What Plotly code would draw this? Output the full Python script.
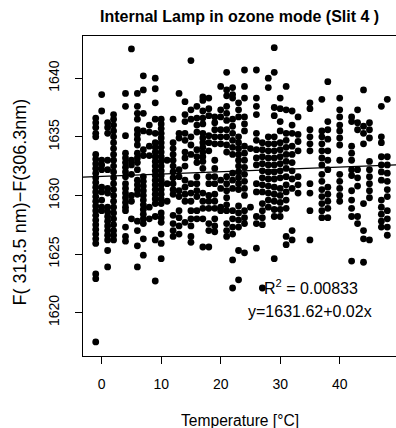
import plotly.graph_objects as go

# Internal lamp ratio F(313.5nm)-F(306.3nm) grouped by instrument temperature (degC)
col_m1 = [1636.6, 1636.2, 1635.8, 1635.3, 1635.0, 1633.5, 1633.1, 1632.7, 1632.3, 1631.9,
          1631.5, 1631.1, 1630.7, 1630.3, 1629.9, 1629.5, 1629.1, 1628.7, 1628.3, 1627.9,
          1627.5, 1627.1, 1626.7, 1626.3, 1625.9, 1623.3, 1622.9, 1617.5]
col_00 = [1638.6, 1637.2, 1633.0, 1632.6, 1632.2, 1630.7, 1630.3, 1629.6, 1629.0, 1628.7]
col_01 = [1636.2, 1635.8, 1635.3, 1633.0, 1632.2, 1630.6, 1630.2, 1629.0, 1628.6, 1628.2,
          1627.8, 1627.4, 1627.0, 1626.6, 1626.2, 1625.3, 1623.9]
col_02 = [1636.9, 1636.5, 1636.0, 1635.5, 1635.0, 1634.5, 1634.0, 1633.5, 1633.0, 1632.5,
          1632.0, 1631.5, 1631.0, 1630.5, 1630.0, 1629.5, 1629.0, 1628.5, 1628.0, 1627.5,
          1627.0, 1626.6, 1626.2]
col_04 = [1638.7, 1637.6, 1635.1, 1633.6, 1633.2, 1632.8, 1632.4, 1632.0, 1631.6, 1631.0,
          1630.6, 1630.2, 1629.8, 1629.4, 1629.0, 1628.7, 1627.3, 1626.5, 1626.1]
col_05 = [1642.5, 1633.0, 1632.6, 1631.8, 1630.0, 1629.5, 1628.0]
col_06 = [1638.7, 1637.6, 1637.0, 1636.5, 1635.6, 1635.2, 1634.8, 1634.3, 1633.6, 1633.2,
          1632.8, 1632.2, 1631.3, 1630.9, 1630.5, 1630.1, 1627.8, 1627.0, 1625.7, 1623.9]
col_07 = [1640.2, 1639.0, 1637.0, 1635.5, 1633.9, 1633.4, 1631.6, 1631.2, 1630.8, 1630.4,
          1630.0, 1629.6, 1629.2, 1628.8, 1628.4, 1628.0, 1627.6, 1626.3, 1624.9]
col_08 = [1636.0, 1635.4, 1634.2, 1633.4, 1629.0, 1628.0]
col_09 = [1640.0, 1639.1, 1637.9, 1636.5, 1635.3, 1634.5, 1634.1, 1633.7, 1633.3, 1632.9,
          1632.5, 1632.1, 1631.7, 1631.3, 1630.9, 1630.5, 1630.1, 1629.7, 1629.3, 1628.2,
          1626.2, 1622.7]
col_10 = [1636.5, 1636.1, 1635.7, 1635.3, 1634.9, 1634.5, 1634.1, 1633.7, 1633.3, 1632.9,
          1632.5, 1632.1, 1631.7, 1631.3, 1630.9, 1630.5, 1630.1, 1629.7, 1629.3, 1628.5,
          1628.1, 1627.7, 1626.7, 1625.9, 1624.6]
col_11 = [1633.0, 1631.0, 1629.5]
col_12 = [1636.5, 1634.5, 1634.0, 1633.5, 1633.0, 1632.5, 1632.0, 1631.5, 1631.0, 1630.5,
          1630.1, 1628.3, 1627.6, 1627.0, 1626.5]
col_13 = [1638.7, 1635.3, 1634.9, 1632.2, 1631.6, 1630.4, 1629.9, 1628.7, 1628.1, 1627.4,
          1626.7]
col_14 = [1638.0, 1636.9, 1636.3, 1635.3, 1634.7, 1633.7, 1633.2, 1632.5, 1631.3, 1630.7,
          1630.1, 1629.5, 1627.7]
col_15 = [1641.5, 1637.3, 1636.5, 1635.0, 1634.3, 1633.5, 1631.0, 1630.2, 1629.5, 1628.7,
          1628.0, 1627.4, 1626.5, 1626.0]
col_16 = [1637.6, 1636.6, 1636.0, 1635.4, 1633.9, 1633.3, 1632.8, 1631.6, 1631.0, 1630.4,
          1629.9, 1628.7, 1628.0]
col_17 = [1638.4, 1638.1, 1637.2, 1636.6, 1636.1, 1635.3, 1634.9, 1634.5, 1634.1, 1633.7,
          1633.3, 1632.9, 1632.3, 1630.2, 1629.5, 1628.9, 1628.0, 1625.6]
col_18 = [1638.3, 1637.4, 1636.8, 1635.1, 1634.5, 1633.8, 1631.6, 1631.0, 1630.0, 1629.5,
          1628.9, 1627.6, 1627.0, 1625.6]
col_19 = [1636.7, 1636.2, 1635.6, 1635.0, 1634.4, 1633.0, 1632.3, 1631.6, 1631.0, 1630.1,
          1629.5, 1628.9, 1628.0, 1627.4, 1626.9]
col_20 = [1639.3, 1637.3, 1636.7, 1635.6, 1635.0, 1634.4, 1631.3, 1630.6, 1629.0, 1628.7]
col_21 = [1640.5, 1639.0, 1638.5, 1637.6, 1637.0, 1636.4, 1635.6, 1635.0, 1634.3, 1633.7,
          1631.6, 1631.0, 1630.4, 1629.8, 1629.2, 1628.7, 1627.6, 1627.0, 1626.5]
col_22 = [1639.2, 1638.6, 1638.3, 1636.5, 1635.9, 1635.3, 1634.7, 1634.1, 1633.5, 1631.9,
          1631.3, 1630.6, 1628.7, 1628.0, 1627.3, 1626.7, 1624.5, 1622.1]
col_23 = [1637.9, 1637.3, 1636.7, 1635.0, 1634.5, 1634.0, 1633.5, 1633.0, 1632.5, 1632.0,
          1631.5, 1631.0, 1630.5, 1629.1, 1628.5, 1627.9, 1627.3, 1625.3, 1622.8]
col_24 = [1640.7, 1639.3, 1638.3, 1636.7, 1636.1, 1635.5, 1634.2, 1633.6, 1633.0, 1632.4,
          1631.8, 1631.2, 1630.6, 1630.0, 1628.7, 1628.1, 1627.6, 1625.1]
col_25 = [1634.0, 1629.0]
col_26 = [1640.7, 1638.3, 1637.6, 1636.9, 1635.3, 1634.7, 1633.9, 1633.2, 1632.6, 1631.0,
          1630.3, 1628.2, 1627.6, 1625.5]
col_27 = [1634.5, 1633.9, 1633.3, 1632.7, 1632.1, 1631.5, 1630.9, 1630.3, 1629.3, 1628.7,
          1628.1, 1627.5, 1622.1]
col_28 = [1640.0, 1639.2, 1635.0, 1634.4, 1633.8, 1633.2, 1632.6, 1632.0, 1631.4, 1630.8,
          1630.2, 1629.6, 1629.0]
col_29 = [1642.6, 1640.5, 1637.5, 1636.8, 1635.0, 1634.4, 1633.8, 1633.2, 1632.6, 1632.0,
          1631.4, 1630.7, 1630.1, 1629.5, 1628.8, 1628.2, 1624.6]
col_30 = [1638.3, 1637.4, 1636.3, 1635.5, 1634.5, 1633.9, 1633.3, 1632.7, 1632.1, 1631.5,
          1630.6, 1630.0, 1629.4, 1628.8, 1628.2]
col_31 = [1639.3, 1637.3, 1635.3, 1634.7, 1634.1, 1633.5, 1632.9, 1632.3, 1631.6, 1630.9,
          1630.3, 1629.6, 1628.9, 1626.5, 1625.8]
col_32 = [1637.2, 1636.0, 1635.3, 1634.2, 1633.5, 1632.8, 1632.1, 1631.4, 1630.6, 1627.0,
          1626.2]
col_33 = [1636.7, 1635.2, 1634.6, 1633.8, 1631.6, 1630.9, 1630.2]
col_35 = [1637.9, 1637.4, 1635.6, 1635.0, 1634.4, 1633.8, 1631.0, 1630.2, 1628.7, 1626.2]
col_37 = [1638.2, 1635.5, 1635.0, 1634.4, 1633.8, 1633.2, 1632.6, 1631.8, 1631.2, 1630.5,
          1629.9, 1629.3, 1628.7, 1628.1]
col_38 = [1639.7, 1636.3, 1635.6, 1634.8, 1633.8, 1633.0, 1632.2, 1630.7, 1630.1, 1629.5,
          1628.9, 1628.1]
col_40 = [1638.3, 1637.3, 1636.7, 1636.0, 1635.5, 1634.9, 1634.3, 1633.0, 1631.8, 1631.2,
          1630.6, 1630.0, 1629.5]
col_42 = [1636.7, 1636.3, 1634.2, 1633.6, 1633.0, 1632.2, 1631.7, 1630.4, 1629.6, 1628.9,
          1628.2, 1624.4]
col_43 = [1637.3, 1636.2, 1635.6, 1632.2, 1631.5, 1630.8, 1628.2, 1627.6]
col_44 = [1639.0, 1635.9, 1635.3, 1634.4, 1629.3, 1627.0, 1626.3, 1624.3]
col_45 = [1636.2, 1635.6, 1634.9, 1632.9, 1632.2, 1631.6, 1631.0, 1630.4, 1629.8, 1626.2]
col_47 = [1637.6, 1635.0, 1634.5, 1633.3, 1632.6, 1632.0, 1631.3, 1629.6, 1629.0, 1628.4,
          1627.8, 1627.3]
col_48 = [1638.2, 1633.3, 1632.6, 1631.9, 1631.2, 1630.5, 1629.9, 1628.7, 1628.0, 1627.3,
          1626.6]

columns = [(-1, col_m1), (0, col_00), (1, col_01), (2, col_02), (4, col_04), (5, col_05),
           (6, col_06), (7, col_07), (8, col_08), (9, col_09), (10, col_10), (11, col_11),
           (12, col_12), (13, col_13), (14, col_14), (15, col_15), (16, col_16),
           (17, col_17), (18, col_18), (19, col_19), (20, col_20), (21, col_21),
           (22, col_22), (23, col_23), (24, col_24), (25, col_25), (26, col_26),
           (27, col_27), (28, col_28), (29, col_29), (30, col_30), (31, col_31),
           (32, col_32), (33, col_33), (35, col_35), (37, col_37), (38, col_38),
           (40, col_40), (42, col_42), (43, col_43), (44, col_44), (45, col_45),
           (47, col_47), (48, col_48)]

# Linear fit reported on the chart
fit_intercept = 1631.62
fit_slope = 0.02
fit_r2 = 0.00833

x_ticks = [0, 10, 20, 30, 40]
y_ticks = [1620, 1625, 1630, 1635, 1640]
x_range = [-3.14, 49.46]
y_range = [1616.3, 1643.6]

temps = []
values = []
for t, vals in columns:
    temps.extend([t] * len(vals))
    values.extend(vals)

FONT = "Liberation Sans, Arial, Helvetica, sans-serif"

fig = go.Figure()
fig.add_trace(go.Scatter(
    x=temps, y=values, mode="markers",
    marker=dict(color="black", size=6.8, line=dict(width=0)),
    hoverinfo="skip", showlegend=False,
))
fig.add_trace(go.Scatter(
    x=x_range, y=[fit_intercept + fit_slope * x for x in x_range],
    mode="lines", line=dict(color="black", width=1.3),
    hoverinfo="skip", showlegend=False,
))

fig.update_layout(
    width=396, height=428,
    margin=dict(l=83, r=0, t=36, b=72),
    paper_bgcolor="white", plot_bgcolor="white",
    font=dict(family=FONT, size=14, color="black"),
    xaxis=dict(
        range=x_range, tickvals=x_ticks, ticks="outside", ticklen=7,
        tickwidth=1, tickcolor="black", showgrid=False, zeroline=False,
        showline=True, linecolor="black", linewidth=1.3, mirror=True,
        ticklabelstandoff=8, tickfont=dict(size=14),
    ),
    yaxis=dict(
        range=y_range, tickvals=y_ticks, ticks="outside", ticklen=7,
        tickwidth=1, tickcolor="black", showgrid=False, zeroline=False,
        showline=True, linecolor="black", linewidth=1.3, mirror=False,
        tickangle=-90, ticklabelstandoff=10, tickfont=dict(size=14),
    ),
    annotations=[
        dict(text="<b>Internal Lamp in ozone mode (Slit 4 )</b>", xref="paper",
             yref="paper", x=0.5, y=1, yshift=20, showarrow=False,
             font=dict(size=16), xanchor="center", yanchor="middle"),
        dict(text="Temperature [°C]", xref="paper", yref="paper", x=0.5, y=0,
             yshift=-64, showarrow=False, font=dict(size=15.6),
             xanchor="center", yanchor="middle"),
        dict(text="F( 313.5 nm)\u2212F(306.3nm)", xref="paper", yref="paper",
             x=0, y=0.48, xshift=-63, textangle=-90, showarrow=False,
             font=dict(size=18), xanchor="center", yanchor="middle"),
        dict(text=f"R<sup>2</sup> = {fit_r2}", x=35.1, y=1622.2, showarrow=False,
             font=dict(size=16), xanchor="center", yanchor="middle"),
        dict(text=f"y={fit_intercept}+{fit_slope}x", x=35.0, y=1620.1,
             showarrow=False, font=dict(size=16), xanchor="center",
             yanchor="middle"),
    ],
)

fig.write_html("out.html")
